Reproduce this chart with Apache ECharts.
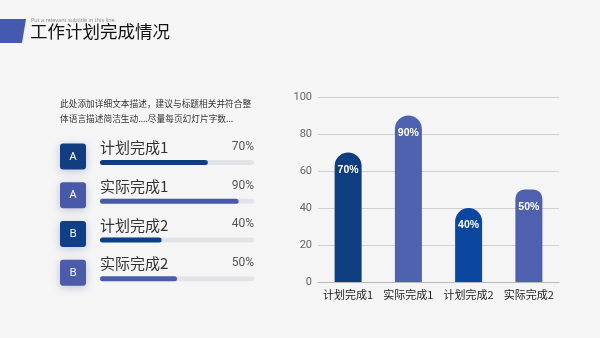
<!DOCTYPE html>
<html>
<head>
<meta charset="utf-8">
<script src="https://cdn.jsdelivr.net/npm/echarts@6/dist/echarts.min.js"></script>
<style>
  html,body{margin:0;padding:0;background:#f5f5f6;}
  #main{width:600px;height:338px;}
</style>
</head>
<body>
<div id="main"></div>
<script>
// chart data
var categories = ['计划完成1', '实际完成1', '计划完成2', '实际完成2'];
var values = [70, 90, 40, 50];
var letters = ['A', 'A', 'B', 'B'];
var barColors = ['#0e3d80', '#4f62b0', '#0b46a0', '#4e60ae'];
var rowColors = ['#123d80', '#4759a8', '#0f3f87', '#4a5caa'];
var yTicks = [0, 20, 40, 60, 80, 100];

var cjk = '"Noto Sans CJK SC", "Noto Sans", sans-serif';

var myChart = echarts.init(document.getElementById('main'));

function buildFill(){
  var res = [];
  for(var i=0;i<values.length;i++){
    res.push({value: values[i], itemStyle: {color: rowColors[i]}});
  }
  return res;
}

function buildColumns(){
  var res = [];
  for(var i=0;i<values.length;i++){
    var r = i == 3 ? 9 : 14;
    res.push({value: values[i], itemStyle: {color: barColors[i], borderRadius: [r, r, 0, 0]}});
  }
  return res;
}

var option = {
  backgroundColor: '#f5f5f6',
  grid: [
    {left: 318, right: 41, top: 97, bottom: 56, containLabel: false},
    {left: 100, width: 154, top: 143, height: 155}
  ],
  xAxis: [
    {
      type: 'category',
      gridIndex: 0,
      data: categories,
      axisTick: {show: false},
      axisLine: {lineStyle: {color: '#b8b8b8'}},
      axisLabel: {color: '#222', fontSize: 11, fontFamily: cjk, margin: 7, interval: 0}
    },
    {type: 'value', gridIndex: 1, max: 100, show: false}
  ],
  yAxis: [
    {
      type: 'value',
      gridIndex: 0,
      min: yTicks[0],
      max: yTicks[yTicks.length-1],
      interval: 20,
      axisLine: {show: false},
      axisTick: {show: false},
      axisLabel: {color: '#666', fontSize: 11, margin: 6, fontFamily: 'Roboto, sans-serif'},
      splitLine: {lineStyle: {color: '#cfcfd4'}}
    },
    {type: 'category', gridIndex: 1, data: categories, inverse: true, show: false}
  ],
  series: [
    {
      type: 'bar',
      xAxisIndex: 0, yAxisIndex: 0,
      barWidth: 27,
      data: buildColumns(),
      label: {
        show: true,
        position: 'insideTop',
        distance: 12,
        color: '#fff',
        fontSize: 10.5,
        fontWeight: 'bold',
        fontFamily: '"Liberation Sans Narrow", "Liberation Sans", sans-serif',
        formatter: '{c}%'
      }
    },
    {
      // track of the progress bars, carries the % text
      type: 'bar',
      xAxisIndex: 1, yAxisIndex: 1,
      barWidth: 5,
      silent: true,
      data: [100, 100, 100, 100],
      itemStyle: {color: '#e2e3e6', borderRadius: 3},
      label: {
        show: true,
        position: ['100%', -7],
        align: 'right',
        verticalAlign: 'bottom',
        color: '#555',
        fontSize: 12,
        fontFamily: 'Roboto, sans-serif',
        formatter: function(p){ return values[p.dataIndex] + '%'; }
      }
    },
    {
      type: 'bar',
      xAxisIndex: 1, yAxisIndex: 1,
      barWidth: 5,
      barGap: '-100%',
      z: 3,
      data: buildFill(),
      itemStyle: {borderRadius: 3},
      label: {
        show: true,
        position: [0, -5],
        align: 'left',
        verticalAlign: 'bottom',
        color: '#333',
        fontSize: 15,
        fontFamily: cjk,
        formatter: function(p){ return categories[p.dataIndex]; }
      }
    }
  ],
  graphic: [
    {
      type: 'polygon',
      shape: {points: [[0, 19], [26, 19], [22, 43], [0, 43]]},
      style: {fill: '#4659b0'}
    },
    {
      type: 'text', left: 31, top: 17,
      style: {text: 'Put a relevant subtitle in this line.', fill: '#888', font: '5.5px "Open Sans", sans-serif'}
    },
    {
      type: 'text', left: 30, top: 23,
      style: {text: '工作计划完成情况', fill: '#111', font: '17.5px ' + cjk}
    },
    {
      type: 'text', left: 60, top: 96,
      style: {
        text: '此处添加详细文本描述，建议与标题相关并符合整\n体语言描述简洁生动....尽量每页幻灯片字数...',
        fill: '#333', font: '8.7px ' + cjk, lineHeight: 15
      }
    }
  ]
};
myChart.setOption(option);

// letter boxes next to each progress row
var boxes = [];
for(var i=0;i<categories.length;i++){
  var pt = myChart.convertToPixel({gridIndex: 1}, [0, i]);
  boxes.push({
    type: 'group',
    x: 60, y: pt[1] - 19,
    children: [
      {type: 'rect', shape: {x: 0, y: 0, width: 26, height: 26, r: 3},
       style: {fill: rowColors[i], shadowBlur: 8, shadowColor: 'rgba(40,60,120,0.25)', shadowOffsetY: 2}},
      {type: 'text', x: 13, y: 13,
       style: {text: letters[i], fill: '#fff', font: '11px "Noto Sans", sans-serif', align: 'center', verticalAlign: 'middle'}}
    ]
  });
}
myChart.setOption({graphic: option.graphic.concat(boxes)});
</script>
</body>
</html>
